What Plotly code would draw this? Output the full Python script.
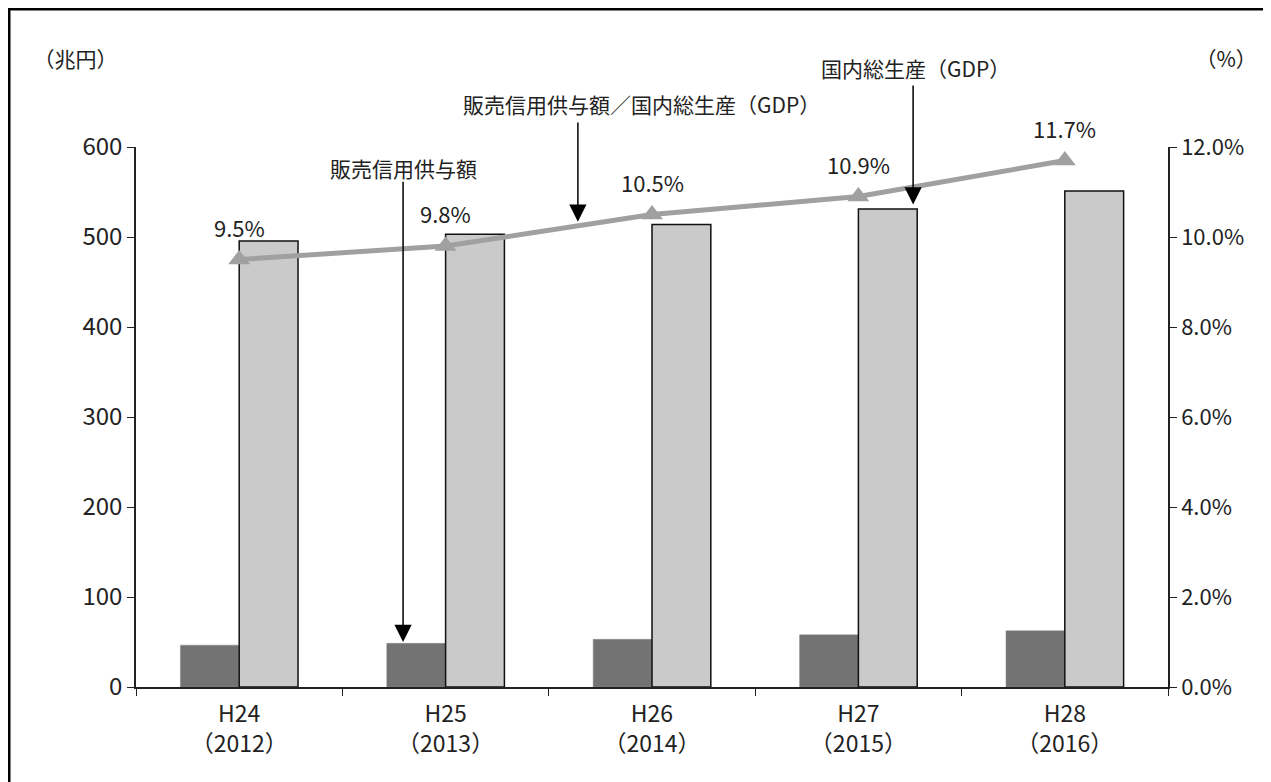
import plotly.graph_objects as go

# Data
SP = "\u2002"
categories = ["H24", "H25", "H26", "H27", "H28"]
years = ["2012", "2013", "2014", "2015", "2016"]
credit = [46.5, 48.5, 53.0, 58.0, 62.5]          # 販売信用供与額 (兆円)
gdp = [495.5, 503.0, 514.0, 531.0, 551.0]        # 国内総生産 (兆円)
ratio = [0.095, 0.098, 0.105, 0.109, 0.117]      # 販売信用供与額／GDP
ratio_labels = ["9.5%", "9.8%", "10.5%", "10.9%", "11.7%"]

tick_text = [f"{c}<br>{SP}（{y}）{SP}" for c, y in zip(categories, years)]

FONT = "Noto Sans CJK JP, Noto Sans, sans-serif"
TXT = "#222222"

fig = go.Figure()

fig.add_trace(go.Bar(
    x=categories, y=credit, name="販売信用供与額",
    marker=dict(color="#737373", line=dict(color="#8a8a8a", width=0.5)),
))
fig.add_trace(go.Bar(
    x=categories, y=gdp, name="国内総生産（GDP）",
    marker=dict(color="#c9cac9", line=dict(color="#111111", width=1.5)),
))
fig.add_trace(go.Scatter(
    x=categories, y=ratio, name="販売信用供与額／国内総生産（GDP）",
    yaxis="y2", mode="lines+markers",
    line=dict(color="#a0a0a0", width=5),
    marker=dict(symbol="triangle-up", size=19, color="#a0a0a0"),
))

# value labels above the markers
annotations = []
for c, v, lab in zip(categories, ratio, ratio_labels):
    annotations.append(dict(
        x=c, y=v, xref="x", yref="y2", text=lab, showarrow=False,
        yshift=33, font=dict(size=22, color=TXT),
    ))

# callout arrows (pointing down) and their captions
arrow_style = dict(showarrow=True, arrowhead=2, arrowsize=2.3, arrowwidth=1.5,
                   arrowcolor="#000000", text="", xref="x", yref="y",
                   axref="x", ayref="y")
cap = dict(xref="paper", yref="paper", showarrow=False, xanchor="center",
           yanchor="middle", font=dict(size=21, color=TXT))
annotations += [
    dict(x=0.794, y=50, ax=0.794, ay=563, **arrow_style),
    dict(x=1.641, y=517, ax=1.641, ay=629, **arrow_style),
    dict(x=3.265, y=536, ax=3.265, ay=670, **arrow_style),
    dict(x=(403 - 136) / 1032, y=(687 - 168) / 540, text="販売信用供与額", **cap),
    dict(x=(641 - 136) / 1032, y=(687 - 104) / 540,
         text="販売信用供与額／国内総生産（GDP）", **cap),
    dict(x=(915 - 136) / 1032, y=(687 - 68) / 540, text="国内総生産（GDP）", **cap),
    dict(x=(75 - 136) / 1032, y=(687 - 58) / 540, text=f"{SP}（兆円）{SP}", **cap),
    dict(x=(1226 - 136) / 1032, y=(687 - 58) / 540, text=f"{SP}（%）{SP}", **cap),
]

fig.update_layout(
    width=1271, height=782,
    margin=dict(l=128, r=111, t=139, b=103),
    paper_bgcolor="white", plot_bgcolor="white",
    font=dict(family=FONT, size=22, color=TXT),
    showlegend=False,
    barmode="group", bargap=0.43, bargroupgap=0,
    annotations=annotations,
    shapes=[dict(type="rect", xref="paper", yref="paper",
                 x0=(9 - 136) / 1032, x1=1.12, y0=-0.22, y1=(687 - 9) / 540,
                 line=dict(color="#000000", width=3))],
    xaxis=dict(
        tickmode="array", tickvals=categories, ticktext=tick_text,
        showline=True, linecolor="#222222", linewidth=1.5,
        ticks="outside", tickson="boundaries", ticklen=7, tickcolor="#222222",
        tickfont=dict(size=23, color=TXT), showgrid=False, ticklabelstandoff=6,
    ),
    yaxis=dict(
        range=[0, 600], dtick=100, showline=True, linecolor="#222222", linewidth=1.5,
        ticks="outside", ticklen=7, tickcolor="#222222", showgrid=False,
        zeroline=False, tickfont=dict(size=24, color=TXT),
    ),
    yaxis2=dict(
        range=[0, 0.12], dtick=0.02, tickformat=".1%", overlaying="y", side="right",
        showline=True, linecolor="#222222", linewidth=1.5,
        ticks="outside", ticklen=7, tickcolor="#222222", showgrid=False,
        zeroline=False, tickfont=dict(size=22, color=TXT),
    ),
)

fig.write_html("out.html")
